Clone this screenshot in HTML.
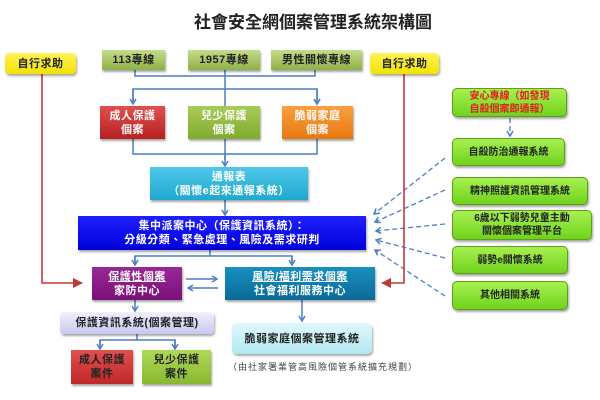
<!DOCTYPE html>
<html><head><meta charset="utf-8"><style>
body{margin:0;width:600px;height:400px;background:#fff;overflow:hidden;font-family:"Liberation Sans","Noto Sans CJK TC",sans-serif}
.b{position:absolute;box-sizing:border-box;display:flex;align-items:center;justify-content:center;text-align:center;font-weight:bold;font-size:11px;line-height:14px;box-shadow:1px 2px 2px rgba(0,0,0,.35);letter-spacing:0.5px}
.y{background:linear-gradient(#fff25a,#f2e200);border-radius:4px;color:#222}
.g{background:linear-gradient(#c4dc8a,#8fb048);color:#222}
.lg{background:linear-gradient(#a8f050,#6fd31c);border:1px solid #5aa018;border-radius:5px;color:#222;font-size:10px;line-height:13px;letter-spacing:0}
.w{color:#fff}
</style></head><body>
<div style="position:absolute;left:0;width:600px;top:8px;text-align:right;padding-right:168px;box-sizing:border-box;font-size:17px;font-weight:bold;color:#222;font-family:'Liberation Sans','Noto Sans CJK TC',sans-serif">社會安全網個案管理系統架構圖</div>
<svg width="600" height="400" style="position:absolute;left:0;top:0">
<defs>
<marker id="a" markerWidth="8" markerHeight="8" refX="6" refY="4" orient="auto" markerUnits="userSpaceOnUse"><path d="M1,1 L6,4 L1,7" fill="none" stroke="#4a7fc0" stroke-width="1.5"/></marker>
<marker id="r" markerWidth="10" markerHeight="10" refX="9" refY="5" orient="auto" markerUnits="userSpaceOnUse"><path d="M0,0 L10,5 L0,10 z" fill="#c03838"/></marker>
</defs>
<g fill="none" stroke="#4a7fc0" stroke-width="1.5">
<path d="M135,70V76H315V70M225,70V160"/>
<path d="M133,104V89H317V104" marker-end="url(#a)"/>
<path d="M133,89V104" marker-end="url(#a)"/><path d="M317,89V104" marker-end="url(#a)"/>
<path d="M133,139V154H317V139M225,154V166" marker-end="url(#a)"/>
<path d="M225,200V215" marker-end="url(#a)"/>
<path d="M210,250V256H135V265M210,256H292V265"/>
<path d="M135,256V265" marker-end="url(#a)"/><path d="M292,256V265" marker-end="url(#a)"/>
<path d="M186,279H217" marker-end="url(#a)"/><path d="M218,288H188" marker-end="url(#a)"/>
<path d="M135,300V311" marker-end="url(#a)"/>
<path d="M137,334V340H100V349M137,340H175V349"/>
<path d="M100,340V349" marker-end="url(#a)"/><path d="M175,340V349" marker-end="url(#a)"/>
<path d="M302,300V321" marker-end="url(#a)"/>
</g>
<g fill="none" stroke="#4a7fc0" stroke-width="1.3" stroke-dasharray="5,3">
<path d="M510,118V136" marker-end="url(#a)"/>
<path d="M445,158L374,214" marker-end="url(#a)"/>
<path d="M445,190L375,222" marker-end="url(#a)"/>
<path d="M445,224L376,231" marker-end="url(#a)"/>
<path d="M445,258L376,240" marker-end="url(#a)"/>
<path d="M445,296L375,250" marker-end="url(#a)"/>
</g>
<g fill="none" stroke="#c83838" stroke-width="1.6">
<path d="M42,74V283H82" marker-end="url(#r)"/>
<path d="M404,74V283H382" marker-end="url(#r)"/>
</g>
</svg>
<div class="b y" style="left:5px;top:53px;width:71px;height:21px">自行求助</div>
<div class="b y" style="left:370px;top:53px;width:69px;height:21px">自行求助</div>
<div class="b g" style="left:102px;top:50px;width:63px;height:20px">113專線</div>
<div class="b g" style="left:188px;top:50px;width:72px;height:20px">1957專線</div>
<div class="b g" style="left:271px;top:50px;width:91px;height:20px">男性關懷專線</div>
<div class="b w" style="left:100px;top:106px;width:65px;height:33px;background:linear-gradient(#e05050,#b82020)">成人保護<br>個案</div>
<div class="b w" style="left:188px;top:106px;width:72px;height:33px;background:linear-gradient(#a8cc58,#80aa30)">兒少保護<br>個案</div>
<div class="b w" style="left:282px;top:106px;width:71px;height:33px;background:linear-gradient(#f8a040,#e87810)">脆弱家庭<br>個案</div>
<div class="b w" style="left:150px;top:167px;width:158px;height:33px;background:linear-gradient(#4cc8e8,#20a8d0)">通報表<br>（關懷e起來通報系統）</div>
<div class="b w" style="left:78px;top:216px;width:288px;height:34px;background:linear-gradient(#2020ff,#0000d8)">集中派案中心（保護資訊系統）：<br>分級分類、緊急處理、風險及需求研判</div>
<div class="b w" style="left:92px;top:267px;width:90px;height:33px;background:linear-gradient(#9a2898,#7a1078)"><span><u>保護性個案</u><br>家防中心</span></div>
<div class="b w" style="left:225px;top:267px;width:150px;height:33px;background:linear-gradient(#1890c0,#0a6a98)"><span><u>風險/福利需求個案</u><br>社會福利服務中心</span></div>
<div class="b" style="left:60px;top:312px;width:154px;height:22px;background:linear-gradient(#f0f0ff,#c8c8f0);border-radius:4px;color:#222">保護資訊系統(個案管理)</div>
<div class="b" style="left:71px;top:350px;width:62px;height:34px;background:linear-gradient(#e05050,#c02828);color:#222">成人保護<br>案件</div>
<div class="b" style="left:142px;top:350px;width:69px;height:34px;background:linear-gradient(#b0d858,#88b830);color:#222">兒少保護<br>案件</div>
<div class="b" style="left:232px;top:323px;width:140px;height:31px;background:linear-gradient(#e0f8fc,#b0e8f0);border-radius:5px;color:#222">脆弱家庭個案管理系統</div>
<div style="position:absolute;left:228px;top:360px;font-size:9px;color:#444;letter-spacing:1px">（由社家署業管高風險個管系統擴充規劃）</div>
<div class="b lg" style="left:452px;top:88px;width:115px;height:29px;color:#e02020">安心專線（如發現<br>自殺個案即通報）</div>
<div class="b lg" style="left:452px;top:138px;width:113px;height:28px">自殺防治通報系統</div>
<div class="b lg" style="left:452px;top:177px;width:136px;height:28px">精神照護資訊管理系統</div>
<div class="b lg" style="left:452px;top:210px;width:140px;height:30px">6歲以下弱勢兒童主動<br>關懷個案管理平台</div>
<div class="b lg" style="left:452px;top:246px;width:116px;height:28px">弱勢e關懷系統</div>
<div class="b lg" style="left:452px;top:281px;width:116px;height:29px">其他相關系統</div>
</body></html>
